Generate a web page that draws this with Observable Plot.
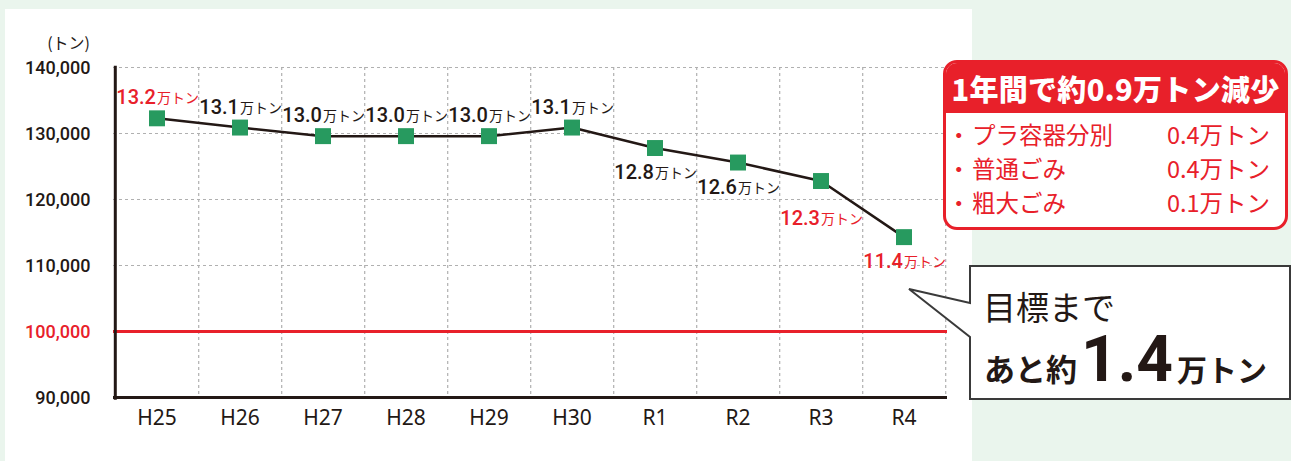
<!DOCTYPE html>
<html><head><meta charset="utf-8">
<script src="https://cdn.jsdelivr.net/npm/d3@7"></script>
<script src="https://cdn.jsdelivr.net/npm/@observablehq/plot@0.6"></script>
<style>
body{margin:0;}
#wrap{position:relative;width:1291px;height:461px;background:#eaf5ed;overflow:hidden;font-family:"Noto Sans CJK JP",sans-serif;}
#panel{position:absolute;left:5px;top:9px;width:967px;height:452px;background:#fff;}
#chart{position:absolute;left:0;top:0;}
#unit{position:absolute;right:1201px;top:31px;font-size:16px;color:#231815;line-height:22px;white-space:nowrap;}
#redbox{position:absolute;left:943px;top:60px;width:345px;height:170px;box-sizing:border-box;border:3px solid #e8202a;border-radius:14px;overflow:hidden;background:#fff;}
#redhead{height:50px;background:#e8202a;color:#fff;font-weight:900;font-size:29px;line-height:50px;text-align:center;white-space:nowrap;letter-spacing:0.3px;}
.row{position:relative;height:34px;line-height:34px;font-size:23.5px;color:#e8202a;white-space:nowrap;}
.row .dot{position:absolute;left:1px;}
.row .nm{position:absolute;left:26px;}
.row .vl{position:absolute;left:221px;}
#callout{position:absolute;left:0;top:0;}
</style>
</head><body>
<div id="wrap">
  <div id="panel"></div>
  <div id="chart"></div>
  <div id="unit"></div>
  <div id="redbox"><div id="redhead"></div><div id="rows" style="padding-top:4px"></div></div>
  <svg id="callout" width="1291" height="461"></svg>
</div>
<script>
const years = ["H25","H26","H27","H28","H29","H30","R1","R2","R3","R4"];
const tons = [132300,130900,129600,129600,129600,130900,127800,125600,122800,114300];
const yTicks = [90000,100000,110000,120000,130000,140000];
const gridTicks = [110000,120000,130000,140000];
const target = 100000;
const unitLabel = "(トン)";
const unitWord = "万トン";
const headline = "1年間で約0.9万トン減少";
const bullet = "・";
const breakdownItems = ["プラ容器分別","普通ごみ","粗大ごみ"];
const breakdownValues = ["0.4万トン","0.4万トン","0.1万トン"];
const remainLine1 = "目標まで";
const remainPre = "あと約";
const remainValue = "1.4";
const remainUnit = "万トン";
const redYears = ["H25","R3","R4"];

const RED = "#e8202a", GREEN = "#279a5f", INK = "#231815", GRID = "#b0b0b0";
const data = years.map((y, i) => ({year: y, tons: tons[i], num: (tons[i] / 10000).toFixed(1), red: redYears.includes(y)}));

const W = 1291, H = 461, mL = 113, mR = 344, mT = 67, mB = 64;
const bw = (W - mL - mR) / years.length;
const numFont = "Roboto,sans-serif";

const above = data.filter((d, i) => i < 6);
const below = data.filter((d, i) => i >= 6 && d.year !== "R3");
const below2 = data.filter(d => d.year === "R3");

function labelMarks(arr, dy) {
  return [
    Plot.text(arr, {x: "year", y: "tons", text: "num", textAnchor: "end", lineAnchor: "bottom", dx: -1, dy,
      fill: d => d.red ? RED : INK, fontSize: 20, fontWeight: 500, fontFamily: numFont, letterSpacing: "-0.6px"}),
    Plot.text(arr, {x: "year", y: "tons", text: () => unitWord, textAnchor: "start", lineAnchor: "bottom", dx: 0, dy: dy - 1,
      fill: d => d.red ? RED : INK, fontSize: 14, fontFamily: "'Noto Sans CJK JP',sans-serif", letterSpacing: "-1.4px"})
  ];
}

const chart = Plot.plot({
  width: W, height: H,
  marginLeft: mL, marginRight: mR, marginTop: mT, marginBottom: mB,
  style: {background: "transparent", fontFamily: "'Noto Sans CJK JP',sans-serif", overflow: "visible"},
  x: {type: "band", domain: years, padding: 0, axis: null},
  y: {domain: [90000, 140000], axis: null},
  marks: [
    Plot.ruleY(gridTicks, {stroke: GRID, strokeWidth: 1.2, strokeDasharray: "3,3"}),
    Plot.ruleX(years, {x: d => d, dx: bw / 2, stroke: GRID, strokeWidth: 1.2, strokeDasharray: "3,3"}),
    Plot.ruleY([target], {stroke: RED, strokeWidth: 3}),
    Plot.ruleY([90000], {stroke: INK, strokeWidth: 3}),
    Plot.ruleX([years[0]], {x: d => d, dx: -bw / 2, y1: 89600, y2: 140200, stroke: INK, strokeWidth: 3}),
    Plot.text(yTicks, {y: d => d, frameAnchor: "left", dx: -23, dy: 1, textAnchor: "end", text: d => d3.format(",")(d),
      fill: d => d === target ? RED : INK, fontSize: 18, fontWeight: 500, fontFamily: "Roboto,sans-serif"}),
    Plot.text(years, {x: d => d, frameAnchor: "bottom", dy: 27, text: d => d, fill: INK, fontSize: 21, fontFamily: "'Noto Sans',sans-serif"}),
    Plot.line(data, {x: "year", y: "tons", stroke: INK, strokeWidth: 2.5}),
    Plot.dot(data, {x: "year", y: "tons", symbol: "square", r: 9, fill: GREEN, stroke: "none"}),
    ...labelMarks(above, -14),
    ...labelMarks(below, 31),
    ...labelMarks(below2, 44)
  ]
});
document.getElementById("chart").appendChild(chart);
document.getElementById("unit").textContent = unitLabel;
document.getElementById("redhead").textContent = headline;
const rows = document.getElementById("rows");
breakdownItems.forEach((t, i) => {
  const r = document.createElement("div"); r.className = "row";
  r.innerHTML = `<span class="dot"></span><span class="nm"></span><span class="vl"></span>`;
  r.querySelector(".dot").textContent = bullet;
  r.querySelector(".nm").textContent = t;
  r.querySelector(".vl").textContent = breakdownValues[i];
  rows.appendChild(r);
});

const svg = d3.select("#callout");
svg.append("path")
  .attr("d", "M1290,266 L970,266 L970,303 L909,289 L970,337 L970,399 L1290,399 Z")
  .attr("fill", "#fff").attr("stroke", "#3a3a3a").attr("stroke-width", 2).attr("stroke-linejoin", "miter");
svg.append("text").attr("x", 983).attr("y", 320).attr("font-size", 33).attr("fill", INK).text(remainLine1);
const t2 = svg.append("text").attr("x", 984).attr("y", 381).attr("fill", INK).attr("font-weight", 700);
t2.append("tspan").attr("font-size", 31).text(remainPre);
t2.append("tspan").attr("font-size", 64).attr("font-family", "Roboto,sans-serif").attr("dx", 4).text(remainValue);
t2.append("tspan").attr("font-size", 30).attr("dx", 4).text(remainUnit);
</script>
</body></html>
